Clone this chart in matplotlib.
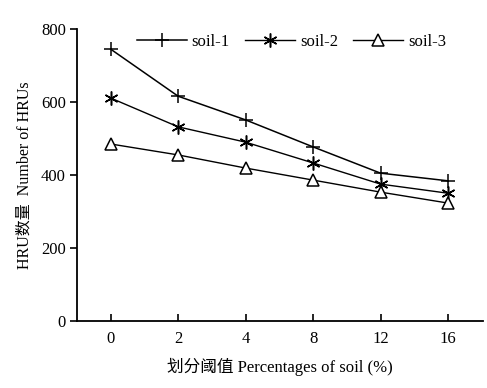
import matplotlib
matplotlib.use('Agg')
import matplotlib.pyplot as plt

plt.rcParams['font.family'] = ['Liberation Serif', 'Noto Sans CJK SC']
plt.rcParams['font.size'] = 12

categories = ['0', '2', '4', '8', '12', '16']
soil_1 = [745, 616, 551, 477, 405, 384]
soil_2 = [611, 532, 490, 433, 375, 350]
soil_3 = [485, 455, 419, 386, 353, 323]
y_ticks = [0, 200, 400, 600, 800]


def draw_series(ax, values, label, marker, ms, lw=1.0):
    x = list(range(len(values)))
    ax.plot(x, values, color='black', lw=lw, label=label, marker=marker,
            markersize=ms, markerfacecolor='white', markeredgecolor='black',
            markeredgewidth=1.1)


def main():
    fig = plt.figure(figsize=(4.87, 3.88), dpi=100)
    ax = fig.add_axes([0.158, 0.173, 0.834, 0.752])

    draw_series(ax, soil_1, 'soil-1', '+', 10, lw=1.1)
    draw_series(ax, soil_2, 'soil-2', (6, 2, 0), 10)
    draw_series(ax, soil_3, 'soil-3', '^', 8.5)

    ax.set_xlim(-0.5, 5.52)
    ax.set_ylim(0, 800)
    ax.set_xticks(range(len(categories)))
    ax.set_xticklabels(categories)
    ax.set_yticks(y_ticks)
    ax.spines['top'].set_visible(False)
    ax.spines['right'].set_visible(False)
    ax.spines['left'].set_linewidth(1.3)
    ax.spines['bottom'].set_linewidth(1.3)
    ax.tick_params(axis='x', direction='in', length=5, width=1.2, pad=7)
    ax.tick_params(axis='y', direction='out', length=5, width=1.2, pad=3)

    ax.set_xlabel('划分阈值 Percentages of soil (%)', labelpad=8)
    ax.set_ylabel('HRU数量  Number of HRUs', labelpad=6, fontsize=11.5)

    ax.legend(loc='center', bbox_to_anchor=(0.598, 0.892),
              bbox_transform=fig.transFigure, ncol=3, frameon=False,
              handlelength=3.0, handletextpad=0.3, columnspacing=0.9)

    fig.savefig('out.png', dpi=100)


if __name__ == '__main__':
    main()
